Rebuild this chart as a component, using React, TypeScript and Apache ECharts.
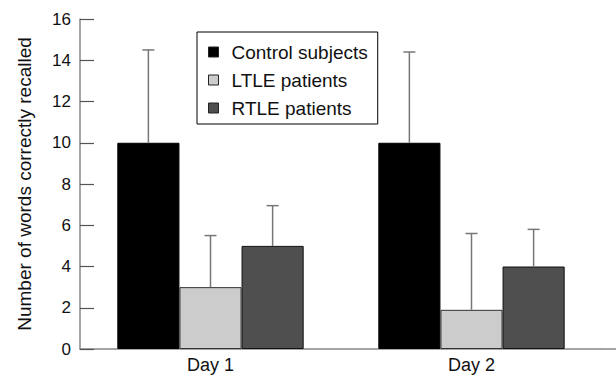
import React, { useEffect, useRef } from "react";
import * as echarts from "echarts";

const categories = ["Day 1", "Day 2"];
const seriesNames = ["Control subjects", "LTLE patients", "RTLE patients"];
const controlMeans = [10, 10];
const ltleMeans = [3, 1.9];
const rtleMeans = [5, 4];
const controlUpper = [14.5, 14.4];
const ltleUpper = [5.5, 5.6];
const rtleUpper = [6.95, 5.8];
const yTicks = [0, 2, 4, 6, 8, 10, 12, 14, 16];

const FONT = "Liberation Sans";
const BAR_FRAC = 0.238;

export default function App() {
  const ref = useRef<HTMLDivElement>(null);
  useEffect(() => {
    if (!ref.current) return;
    const chart = echarts.init(ref.current, undefined, { renderer: "svg" });
    const means = [controlMeans, ltleMeans, rtleMeans];
    const uppers = [controlUpper, ltleUpper, rtleUpper];
    const colors = ["#000000", "#cccccc", "#4f4f4f"];
    const borders = ["#000000", "#333333", "#111111"];
    const errData: number[][] = [];
    for (let s = 0; s < 3; s++) {
      for (let c = 0; c < categories.length; c++) {
        errData.push([c, means[s][c], uppers[s][c], s]);
      }
    }
    chart.setOption({
      animation: false,
      grid: { left: 80, right: 14, top: 19, bottom: 30 },
      legend: {
        orient: "vertical",
        left: 197,
        top: 32,
        width: 181,
        padding: [10, 10, 6, 11],
        borderColor: "#000",
        borderWidth: 1,
        itemWidth: 10,
        itemHeight: 10,
        itemGap: 8,
        icon: "rect",
        textStyle: {
          fontFamily: FONT,
          fontSize: 19,
          color: "#111",
          lineHeight: 20,
          padding: [0, 0, 0, 8],
        },
        data: seriesNames.map((n, i) => ({
          name: n,
          itemStyle: { color: colors[i], borderColor: "#222", borderWidth: 1 },
        })),
      },
      xAxis: {
        type: "category",
        data: categories,
        axisLine: { lineStyle: { color: "#888", width: 1.5 } },
        axisTick: {
          inside: true,
          length: 13,
          interval: 0,
          lineStyle: { color: "#111", width: 1.2 },
        },
        axisLabel: { fontFamily: FONT, fontSize: 18, color: "#111", margin: 7 },
      },
      yAxis: {
        type: "value",
        min: 0,
        max: 16,
        interval: 2,
        name: "Number of words correctly recalled",
        nameLocation: "middle",
        nameGap: 46,
        nameTextStyle: { fontFamily: FONT, fontSize: 19, color: "#111" },
        axisLine: { show: true, lineStyle: { color: "#888", width: 1.5 } },
        axisTick: { show: true, inside: true, length: 14, lineStyle: { color: "#555", width: 1.2 } },
        splitLine: { show: false },
        axisLabel: {
          fontFamily: FONT,
          fontSize: 17,
          color: "#111",
          margin: 9,
          formatter: (v: number) => (yTicks.includes(v) ? String(v) : ""),
        },
      },
      graphic: [
        {
          type: "line",
          shape: { x1: 602, y1: 349, x2: 616, y2: 349 },
          style: { stroke: "#888", lineWidth: 1.5 },
        },
      ],
      series: [
        ...seriesNames.map((n, i) => ({
          name: n,
          type: "bar",
          data: means[i],
          barWidth: BAR_FRAC * 100 + "%",
          barGap: "0%",
          itemStyle: { color: colors[i], borderColor: borders[i], borderWidth: 1 },
          z: 2,
        })),
        {
          type: "custom",
          name: "err",
          data: errData,
          z: 3,
          renderItem: (params: any, api: any) => {
            const c = api.value(0);
            const lo = api.value(1);
            const hi = api.value(2);
            const s = api.value(3);
            const band = api.size([1, 0])[0];
            const bw = band * BAR_FRAC;
            const p0 = api.coord([c, lo]);
            const p1 = api.coord([c, hi]);
            const x = p0[0] + (s - 1) * bw;
            const style = { stroke: "#777", lineWidth: 1.5 };
            return {
              type: "group",
              children: [
                { type: "line", shape: { x1: x, y1: p0[1], x2: x, y2: p1[1] }, style },
                { type: "line", shape: { x1: x - 6, y1: p1[1], x2: x + 6, y2: p1[1] }, style },
              ],
            };
          },
        },
      ],
    });
    return () => chart.dispose();
  }, []);
  return (
    <div
      ref={ref}
      style={{ position: "fixed", left: 0, top: 0, width: 616, height: 379, background: "#fff" }}
    />
  );
}
